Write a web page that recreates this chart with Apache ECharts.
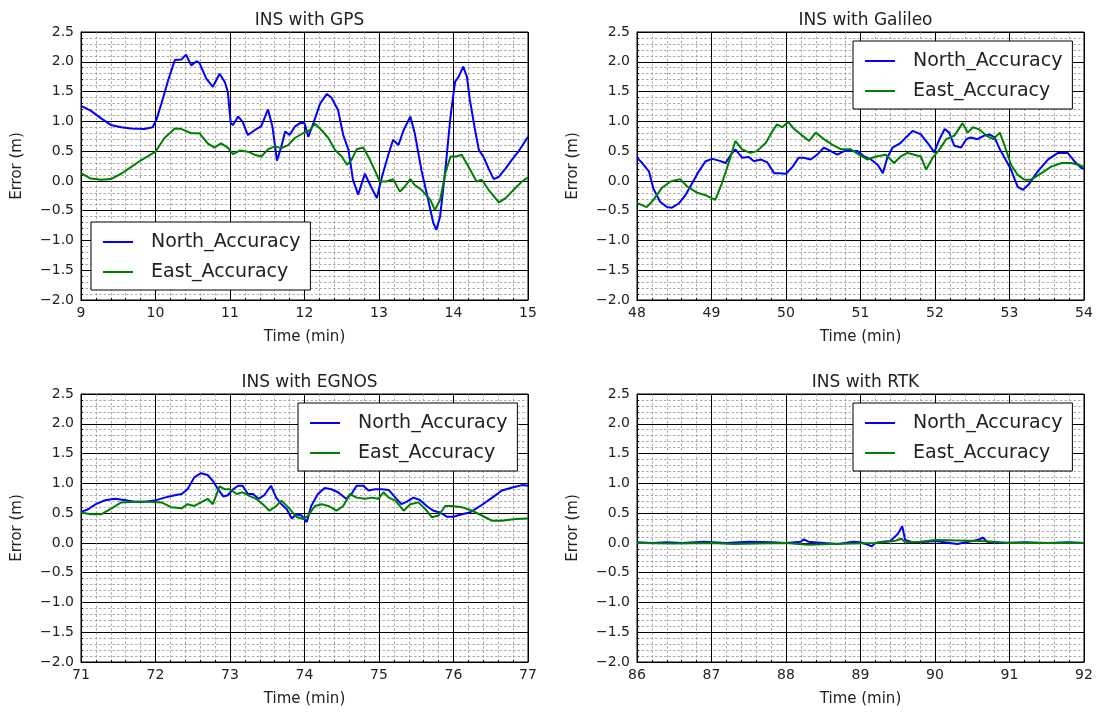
<!DOCTYPE html>
<html><head><meta charset="utf-8">
<script src="https://cdn.jsdelivr.net/npm/echarts@6/dist/echarts.min.js"></script>
<style>html,body{margin:0;padding:0;background:#fff}#c{width:1097px;height:713px}</style>
</head><body><div id="c"></div>
<script>
// ---- Data ----
var titles = ['INS with GPS', 'INS with Galileo', 'INS with EGNOS', 'INS with RTK'];
var xRanges = [[9, 15], [48, 54], [71, 77], [86, 92]];
var yTicks = [-2.0, -1.5, -1.0, -0.5, 0.0, 0.5, 1.0, 1.5, 2.0, 2.5];
var seriesNames = ['North_Accuracy', 'East_Accuracy'];

var gpsNorthT = [9.00,9.13,9.27,9.40,9.54,9.67,9.85,9.96,10.01,10.08,10.17,10.26,10.35,10.41,10.48,10.55,10.59,10.68,10.77,10.86,10.93,10.97,11.01,11.04,11.11,11.17,11.24,11.33,11.42,11.51,11.57,11.63,11.69,11.74,11.80,11.87,11.94,12.00,12.05,12.12,12.21,12.30,12.36,12.45,12.52,12.59,12.65,12.72,12.81,12.89,12.97,13.04,13.13,13.19,13.26,13.33,13.42,13.48,13.57,13.66,13.73,13.77,13.82,13.89,13.96,14.02,14.07,14.13,14.18,14.22,14.29,14.34,14.40,14.47,14.54,14.61,14.70,14.78,14.87,15.00];
var gpsNorthV = [1.26,1.18,1.05,0.94,0.90,0.88,0.87,0.90,1.02,1.30,1.69,2.03,2.04,2.12,1.94,2.01,1.98,1.72,1.58,1.80,1.66,1.50,0.97,0.94,1.08,0.99,0.77,0.85,0.92,1.20,0.91,0.34,0.58,0.83,0.77,0.91,0.97,0.97,0.74,0.97,1.30,1.46,1.40,1.19,0.77,0.52,0.02,-0.23,0.12,-0.09,-0.29,0.07,0.46,0.69,0.60,0.85,1.08,0.80,0.18,-0.32,-0.71,-0.82,-0.60,0.18,1.08,1.66,1.75,1.92,1.75,1.36,0.85,0.52,0.41,0.21,0.03,0.07,0.21,0.35,0.49,0.74];
var gpsEastT = [9.00,9.13,9.27,9.40,9.54,9.67,9.81,10.00,10.12,10.26,10.35,10.48,10.59,10.70,10.79,10.88,10.97,11.04,11.13,11.24,11.33,11.42,11.51,11.60,11.69,11.78,11.87,11.98,12.07,12.14,12.23,12.32,12.41,12.50,12.57,12.63,12.70,12.79,12.88,12.95,13.01,13.10,13.19,13.28,13.35,13.42,13.48,13.57,13.69,13.75,13.82,13.89,13.96,14.04,14.11,14.20,14.31,14.38,14.47,14.61,14.70,14.83,14.92,15.00];
var gpsEastV = [0.13,0.04,0.02,0.03,0.12,0.23,0.35,0.49,0.72,0.88,0.87,0.80,0.80,0.63,0.56,0.63,0.56,0.45,0.51,0.49,0.44,0.41,0.53,0.58,0.55,0.60,0.72,0.80,0.85,0.96,0.85,0.72,0.52,0.41,0.27,0.35,0.53,0.56,0.35,0.16,-0.01,-0.01,0.03,-0.18,-0.09,0.03,-0.07,-0.15,-0.32,-0.49,-0.32,0.13,0.41,0.41,0.44,0.24,-0.01,0.02,-0.15,-0.36,-0.29,-0.12,-0.01,0.06];

var galNorthT = [48.00,48.07,48.16,48.22,48.31,48.40,48.47,48.56,48.65,48.74,48.83,48.92,49.01,49.10,49.19,49.26,49.32,49.41,49.50,49.57,49.66,49.75,49.84,49.91,50.00,50.09,50.17,50.24,50.33,50.42,50.51,50.60,50.69,50.78,50.87,50.96,51.05,51.14,51.23,51.30,51.36,51.43,51.54,51.61,51.70,51.81,51.90,51.99,52.06,52.13,52.19,52.26,52.35,52.42,52.48,52.57,52.66,52.73,52.80,52.87,52.96,53.02,53.11,53.18,53.25,53.38,53.52,53.65,53.78,53.87,53.96,54.00];
var galNorthV = [0.39,0.30,0.16,-0.13,-0.35,-0.44,-0.45,-0.38,-0.24,-0.04,0.16,0.33,0.37,0.34,0.30,0.44,0.53,0.39,0.40,0.33,0.36,0.31,0.13,0.13,0.12,0.24,0.39,0.39,0.36,0.44,0.56,0.50,0.44,0.50,0.50,0.50,0.41,0.36,0.27,0.13,0.39,0.56,0.64,0.73,0.84,0.78,0.64,0.48,0.70,0.87,0.81,0.59,0.56,0.70,0.73,0.70,0.76,0.78,0.73,0.53,0.33,0.19,-0.10,-0.15,-0.07,0.16,0.36,0.47,0.47,0.33,0.22,0.20];
var galEastT = [48.00,48.13,48.22,48.34,48.45,48.58,48.67,48.81,48.92,49.05,49.14,49.23,49.32,49.41,49.52,49.61,49.73,49.82,49.88,49.95,50.03,50.11,50.22,50.31,50.40,50.51,50.62,50.74,50.87,50.98,51.09,51.21,51.34,51.45,51.54,51.63,51.72,51.81,51.88,51.97,52.06,52.15,52.26,52.37,52.44,52.51,52.60,52.69,52.78,52.87,52.93,53.02,53.11,53.20,53.29,53.43,53.56,53.70,53.83,53.92,54.00];
var galEastV = [-0.37,-0.44,-0.32,-0.11,-0.01,0.03,-0.09,-0.20,-0.24,-0.32,-0.04,0.30,0.67,0.53,0.47,0.50,0.64,0.84,0.95,0.90,0.99,0.87,0.76,0.67,0.81,0.70,0.61,0.53,0.53,0.44,0.36,0.41,0.44,0.30,0.41,0.47,0.44,0.41,0.19,0.39,0.53,0.70,0.76,0.97,0.81,0.90,0.86,0.76,0.70,0.81,0.61,0.27,0.10,0.02,0.02,0.13,0.24,0.30,0.30,0.27,0.24];

var egnNorthT = [71.00,71.09,71.20,71.31,71.45,71.58,71.72,71.85,71.99,72.12,72.26,72.35,72.43,72.52,72.61,72.70,72.77,72.84,72.91,72.97,73.04,73.11,73.17,73.24,73.31,73.38,73.46,73.55,73.62,73.69,73.76,73.83,73.89,73.96,74.03,74.09,74.18,74.27,74.36,74.45,74.56,74.63,74.70,74.79,74.86,74.95,75.04,75.13,75.22,75.30,75.37,75.46,75.55,75.64,75.73,75.82,75.91,76.00,76.11,76.22,76.36,76.52,76.65,76.79,76.92,77.00];
var egnNorthV = [0.52,0.56,0.65,0.71,0.74,0.72,0.69,0.69,0.71,0.76,0.80,0.82,0.90,1.10,1.17,1.14,1.04,0.90,0.78,0.80,0.90,0.96,0.96,0.82,0.82,0.74,0.80,0.96,0.76,0.65,0.57,0.41,0.48,0.46,0.35,0.62,0.82,0.92,0.90,0.85,0.74,0.82,0.96,0.96,0.88,0.90,0.90,0.89,0.76,0.65,0.69,0.76,0.72,0.62,0.54,0.51,0.44,0.44,0.48,0.51,0.62,0.76,0.88,0.93,0.97,0.96];
var egnEastT = [71.00,71.13,71.27,71.40,71.54,71.72,71.90,72.08,72.21,72.35,72.43,72.52,72.61,72.70,72.77,72.86,72.93,73.00,73.09,73.17,73.26,73.35,73.44,73.53,73.62,73.69,73.78,73.89,73.98,74.05,74.14,74.23,74.32,74.43,74.52,74.61,74.70,74.81,74.90,74.99,75.06,75.13,75.22,75.33,75.42,75.53,75.62,75.71,75.80,75.89,75.98,76.11,76.25,76.38,76.52,76.65,76.83,77.00];
var egnEastV = [0.51,0.48,0.48,0.57,0.68,0.69,0.69,0.68,0.60,0.58,0.65,0.62,0.68,0.74,0.65,0.95,0.90,0.90,0.82,0.85,0.79,0.74,0.65,0.54,0.62,0.71,0.60,0.44,0.40,0.46,0.62,0.65,0.62,0.54,0.62,0.82,0.76,0.74,0.76,0.74,0.85,0.76,0.71,0.54,0.65,0.68,0.57,0.43,0.46,0.62,0.62,0.60,0.54,0.46,0.37,0.37,0.40,0.41];

var rtkNorthT = [86.0,86.2,86.4,86.6,86.9,87.2,87.5,87.8,88.0,88.2,88.24,88.3,88.5,88.7,88.9,89.0,89.1,89.15,89.2,89.3,89.4,89.5,89.56,89.6,89.7,89.9,90.0,90.2,90.3,90.5,90.6,90.64,90.7,90.9,91.2,91.5,91.8,92.0];
var rtkNorthV = [0.01,0.00,0.01,0.00,0.02,0.00,0.02,0.01,0.00,0.02,0.06,0.02,0.00,-0.02,0.02,0.01,-0.03,-0.06,0.00,0.02,0.03,0.15,0.28,0.05,0.01,0.02,0.03,0.00,-0.02,0.03,0.06,0.09,0.02,0.00,0.01,0.00,0.01,0.00];
var rtkEastT = [86.0,86.5,87.0,87.3,87.6,88.0,88.3,88.6,88.9,89.2,89.45,89.55,89.6,89.8,90.0,90.3,90.6,90.8,91.0,91.5,92.0];
var rtkEastV = [0.00,-0.01,0.00,-0.02,-0.01,0.00,-0.03,-0.02,-0.01,0.00,0.03,0.07,0.01,0.02,0.05,0.04,0.03,0.02,0.00,0.00,0.00];

var northSets = [[gpsNorthT, gpsNorthV], [galNorthT, galNorthV], [egnNorthT, egnNorthV], [rtkNorthT, rtkNorthV]];
var eastSets = [[gpsEastT, gpsEastV], [galEastT, galEastV], [egnEastT, egnEastV], [rtkEastT, rtkEastV]];

// ---- Layout ----
var FONT = 'DejaVu Sans';
var grids = [
  {left: 81, top: 32, width: 447, height: 268},
  {left: 637, top: 32, width: 447, height: 268},
  {left: 81, top: 394, width: 447, height: 268},
  {left: 637, top: 394, width: 447, height: 268}
];
var titleTops = [7, 7, 369, 369];
var legendPos = [{left: 91, top: 222}, {left: 853, top: 41}, {left: 298, top: 403}, {left: 853, top: 403}];

function pairs(s) { return s[0].map(function (t, i) { return [t, s[1][i]]; }); }
function fmtY(v) { return v.toFixed(1).replace('-', '\u2212'); }

var option = {
  animation: false,
  backgroundColor: '#ffffff',
  textStyle: {fontFamily: FONT},
  title: [], grid: [], xAxis: [], yAxis: [], legend: [], series: []
};

for (var i = 0; i < 4; i++) {
  var g = grids[i];
  option.grid.push({left: g.left, top: g.top, width: g.width, height: g.height, show: true, borderColor: '#000', borderWidth: 1, backgroundColor: '#fff'});
  option.title.push({text: titles[i], left: g.left + g.width / 2, top: titleTops[i], textAlign: 'center',
    textStyle: {fontFamily: FONT, fontSize: 17, fontWeight: 'normal', color: '#222'}});
  var minorSplit = {show: true, lineStyle: {color: '#8a8a8a', width: 0.7, type: [2.5, 2]}};
  option.xAxis.push({
    type: 'value', gridIndex: i, min: xRanges[i][0], max: xRanges[i][1], interval: 1,
    name: 'Time (min)', nameLocation: 'middle', nameGap: 30,
    nameTextStyle: {fontFamily: FONT, fontSize: 15, color: '#222'},
    axisLine: {show: true, onZero: false, lineStyle: {color: '#000', width: 1}},
    axisTick: {show: true, inside: true, length: 4, lineStyle: {color: '#000'}},
    minorTick: {show: true, splitNumber: 5, length: 2, lineStyle: {color: '#000'}},
    axisLabel: {fontFamily: FONT, fontSize: 14, color: '#222', margin: 6},
    splitLine: {show: true, lineStyle: {color: '#000', width: 1}},
    minorSplitLine: minorSplit
  });
  option.yAxis.push({
    type: 'value', gridIndex: i, min: -2, max: 2.5, interval: 0.5,
    name: 'Error (m)', nameLocation: 'middle', nameGap: 56,
    nameTextStyle: {fontFamily: FONT, fontSize: 15, color: '#222'},
    axisLine: {show: true, onZero: false, lineStyle: {color: '#000', width: 1}},
    axisTick: {show: true, inside: true, length: 4, lineStyle: {color: '#000'}},
    minorTick: {show: true, splitNumber: 5, length: 2, lineStyle: {color: '#000'}},
    axisLabel: {fontFamily: FONT, fontSize: 14, color: '#222', margin: 7, formatter: fmtY},
    splitLine: {show: true, lineStyle: {color: '#000', width: 1}},
    minorSplitLine: minorSplit
  });
  option.legend.push({
    orient: 'vertical', left: legendPos[i].left, top: legendPos[i].top,
    padding: [10, 10, 8, 12], itemGap: 10,
    backgroundColor: '#fff', borderColor: '#000', borderWidth: 1,
    itemWidth: 30, itemHeight: 2, icon: 'rect',
    textStyle: {fontFamily: FONT, fontSize: 19, color: '#222', padding: [0, 0, 0, 13], lineHeight: 20},
    data: seriesNames, selectedMode: false, z: 10
  });
  option.series.push({
    name: seriesNames[0], type: 'line', xAxisIndex: i, yAxisIndex: i, data: pairs(northSets[i]),
    showSymbol: false, symbol: 'none', color: '#0000ff', lineStyle: {color: '#0000ff', width: 2}, z: 3
  });
  option.series.push({
    name: seriesNames[1], type: 'line', xAxisIndex: i, yAxisIndex: i, data: pairs(eastSets[i]),
    showSymbol: false, symbol: 'none', color: '#008000', lineStyle: {color: '#008000', width: 2}, z: 3
  });
}

var chart = echarts.init(document.getElementById('c'), null, {renderer: 'canvas'});
chart.setOption(option);
</script></body></html>
